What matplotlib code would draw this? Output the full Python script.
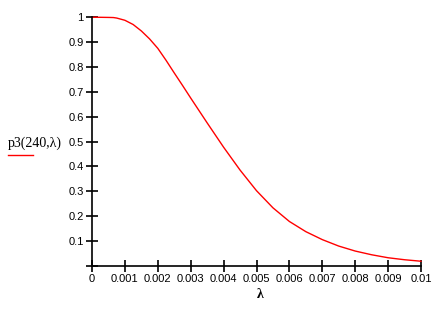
import matplotlib
matplotlib.use("Agg")
import matplotlib.pyplot as plt
from matplotlib.lines import Line2D

# Data
lam = [0.0, 0.00025, 0.0005, 0.00065, 0.00075, 0.001, 0.00125, 0.0015, 0.00175,
       0.002, 0.00225, 0.0025, 0.00275, 0.003, 0.0035, 0.004, 0.0045, 0.005,
       0.0055, 0.006, 0.0065, 0.007, 0.0075, 0.008, 0.0085, 0.009, 0.0095, 0.01]
p3 = [1.0, 1.0, 0.9995, 0.999, 0.997, 0.988, 0.971, 0.945, 0.913,
      0.875, 0.827, 0.776, 0.726, 0.675, 0.575, 0.477, 0.385, 0.302,
      0.233, 0.178, 0.137, 0.105, 0.079, 0.059, 0.044, 0.032, 0.024, 0.018]

xticks = [0, 0.001, 0.002, 0.003, 0.004, 0.005, 0.006, 0.007, 0.008, 0.009, 0.01]
xticklabels = ["0", "0.001", "0.002", "0.003", "0.004", "0.005", "0.006",
               "0.007", "0.008", "0.009", "0.01"]
yticks = [0, 0.1, 0.2, 0.3, 0.4, 0.5, 0.6, 0.7, 0.8, 0.9, 1.0]
yticklabels = ["", "0.1", "0.2", "0.3", "0.4", "0.5", "0.6", "0.7", "0.8", "0.9", "1"]

W, H = 448, 309
fig = plt.figure(figsize=(W / 100, H / 100), dpi=100)
x0, x1 = 92, 421
y0, y1 = 265.7, 17.3
ax = fig.add_axes([x0 / W, 1 - y0 / H, (x1 - x0) / W, (y0 - y1) / H])

ax.plot(lam, p3, color="#ff0000", lw=1.0, clip_on=False)
ax.set_xlim(0, 0.01)
ax.set_ylim(0, 1)

for s in ["top", "right"]:
    ax.spines[s].set_visible(False)
for s in ["left", "bottom"]:
    ax.spines[s].set_linewidth(1.2)
    ax.spines[s].set_color("black")

ax.set_xticks(xticks)
ax.set_xticklabels(xticklabels)
ax.set_yticks(yticks)
ax.set_yticklabels(yticklabels)
ax.tick_params(direction="inout", length=8, width=1.2, colors="black",
               labelsize=8, pad=2)
for lbl in ax.get_xticklabels() + ax.get_yticklabels():
    lbl.set_family("Liberation Sans")

fig.text(8 / W, 1 - 143 / H, "p3(240,λ)", family="Liberation Serif",
         fontsize=10, ha="left", va="center")
fig.add_artist(Line2D([8 / W, 33 / W], [1 - 155 / H, 1 - 155 / H],
                      color="#ff0000", lw=1.0, transform=fig.transFigure))
fig.text(260.7 / W, 1 - 295 / H, "λ", family="Liberation Serif",
         fontsize=10, ha="center", va="center", fontweight="bold")

fig.savefig("out.png", dpi=100)
